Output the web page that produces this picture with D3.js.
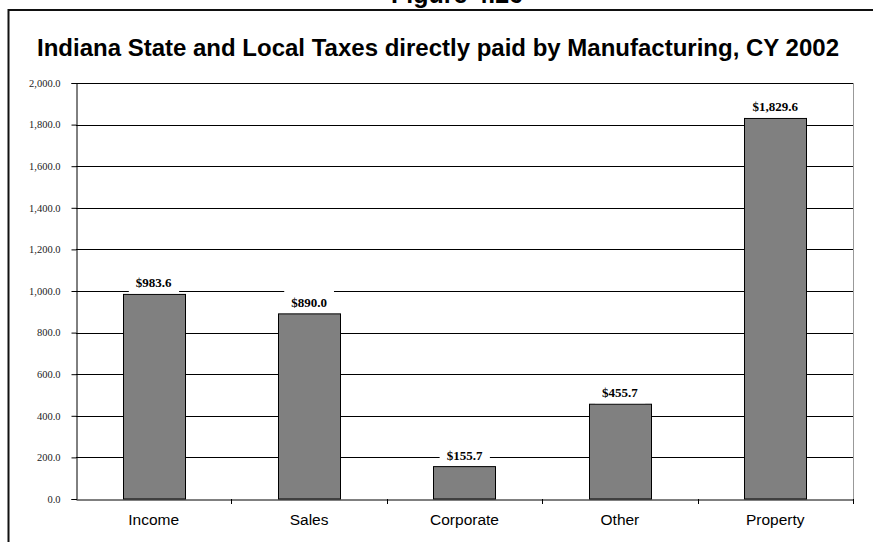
<!DOCTYPE html>
<html>
<head>
<meta charset="utf-8">
<script src="https://cdn.jsdelivr.net/npm/d3@7/dist/d3.min.js"></script>
<style>
  html, body { margin: 0; padding: 0; background: #fff; }
  svg { display: block; }
</style>
</head>
<body>
<svg id="chart" width="873" height="542"></svg>
<script>
// Tax categories and amounts (millions of dollars)
const categories = ["Income", "Sales", "Corporate", "Other", "Property"];
const taxValues = [983.6, 890.0, 155.7, 455.7, 1829.6];
const yTicks = [0, 200, 400, 600, 800, 1000, 1200, 1400, 1600, 1800, 2000];
const figureLabel = "Figure 4.26";
const chartTitle = "Indiana State and Local Taxes directly paid by Manufacturing, CY 2002";

const svg = d3.select("#chart");
const W = 873, H = 542;
const plot = { left: 76, right: 853, top: 83, bottom: 499 };

// Outer chart frame (runs off the right and bottom edges)
svg.append("rect")
  .attr("x", 8.5).attr("y", 10)
  .attr("width", W + 20).attr("height", H + 20)
  .attr("fill", "#fff")
  .attr("stroke", "#111").attr("stroke-width", 2);

// Figure caption, mostly above the top edge
svg.append("text")
  .attr("x", 457).attr("y", 3)
  .attr("text-anchor", "middle")
  .attr("font-family", "Liberation Sans, Arial, sans-serif")
  .attr("font-weight", "bold")
  .attr("font-size", 25)
  .attr("fill", "#000")
  .text(figureLabel);

// Chart title
svg.append("text")
  .attr("x", 438).attr("y", 56)
  .attr("text-anchor", "middle")
  .attr("font-family", "Liberation Sans, Arial, sans-serif")
  .attr("font-weight", "bold")
  .attr("font-size", 24)
  .attr("fill", "#000")
  .text(chartTitle);

const x = d3.scaleBand()
  .domain(categories)
  .range([plot.left, plot.right])
  .paddingInner(0.6)
  .paddingOuter(0.3);

const y = d3.scaleLinear()
  .domain([0, 2000])
  .range([plot.bottom, plot.top]);

// Horizontal gridlines
svg.append("g")
  .selectAll("line")
  .data(yTicks.filter(d => d > 0))
  .join("line")
  .attr("x1", plot.left).attr("x2", plot.right)
  .attr("y1", d => Math.round(y(d)) + 0.5)
  .attr("y2", d => Math.round(y(d)) + 0.5)
  .attr("stroke", "#000").attr("stroke-width", 1);

// Right edge of the plot area
svg.append("line")
  .attr("x1", plot.right + 0.5).attr("x2", plot.right + 0.5)
  .attr("y1", plot.top).attr("y2", plot.bottom)
  .attr("stroke", "#999").attr("stroke-width", 1);

// Y axis
const yAxis = d3.axisLeft(y)
  .tickValues(yTicks)
  .tickSize(5)
  .tickPadding(11)
  .tickFormat(d3.format(",.1f"));

const gy = svg.append("g")
  .attr("transform", `translate(${plot.left + 0.5},0)`)
  .call(yAxis);
gy.select(".domain").attr("stroke", "#000");
gy.selectAll(".tick line").attr("stroke", "#000");
gy.selectAll(".tick text")
  .attr("font-family", "Liberation Serif, Times New Roman, serif")
  .attr("font-size", 10.5)
  .attr("fill", "#222");

// Value labels with white boxes that interrupt the gridlines
const fmt = d => "$" + d3.format(",.1f")(d);
const labelFont = "Liberation Serif, Times New Roman, serif";

const labelG = svg.append("g");
const labels = labelG.selectAll("text")
  .data(categories)
  .join("text")
  .attr("x", d => x(d) + x.bandwidth() / 2)
  .attr("y", (d, i) => y(taxValues[i]) - 7)
  .attr("text-anchor", "middle")
  .attr("font-family", labelFont)
  .attr("font-weight", "bold")
  .attr("font-size", 13)
  .attr("fill", "#000")
  .text((d, i) => fmt(taxValues[i]));

labels.each(function (d, i) {
  const bb = this.getBBox();
  labelG.insert("rect", "text")
    .attr("x", bb.x - 7)
    .attr("y", y(taxValues[i]) - 25)
    .attr("width", bb.width + 14)
    .attr("height", 24)
    .attr("fill", "#fff");
});

// Bars
svg.append("g")
  .selectAll("rect")
  .data(categories)
  .join("rect")
  .attr("x", d => Math.round(x(d)) + 0.5)
  .attr("y", (d, i) => y(taxValues[i]))
  .attr("width", Math.round(x.bandwidth()))
  .attr("height", (d, i) => plot.bottom - y(taxValues[i]))
  .attr("fill", "#808080")
  .attr("stroke", "#000").attr("stroke-width", 1);

labelG.raise();
labelG.selectAll("rect").lower();

// X axis
const xAxis = d3.axisBottom(x).tickSize(0).tickPadding(0).tickFormat("");
const gx = svg.append("g")
  .attr("transform", `translate(0,${plot.bottom + 0.5})`)
  .call(xAxis);
gx.select(".domain").attr("stroke", "#000");
gx.selectAll(".tick").remove();

// Category separators below the axis
const bounds = d3.range(1, categories.length + 1).map(i => x(categories[i - 1]) - x.step() * x.paddingOuter() + x.step());
svg.append("g")
  .selectAll("line")
  .data(bounds)
  .join("line")
  .attr("x1", d => Math.round(d) + 0.5).attr("x2", d => Math.round(d) + 0.5)
  .attr("y1", plot.bottom).attr("y2", plot.bottom + 5)
  .attr("stroke", "#000");

// Category labels
svg.append("g")
  .selectAll("text")
  .data(categories)
  .join("text")
  .attr("x", d => x(d) + x.bandwidth() / 2)
  .attr("y", 524.5)
  .attr("text-anchor", "middle")
  .attr("font-family", "Liberation Sans, Arial, sans-serif")
  .attr("font-size", 15.5)
  .attr("fill", "#000")
  .text(d => d);
</script>
</body>
</html>
